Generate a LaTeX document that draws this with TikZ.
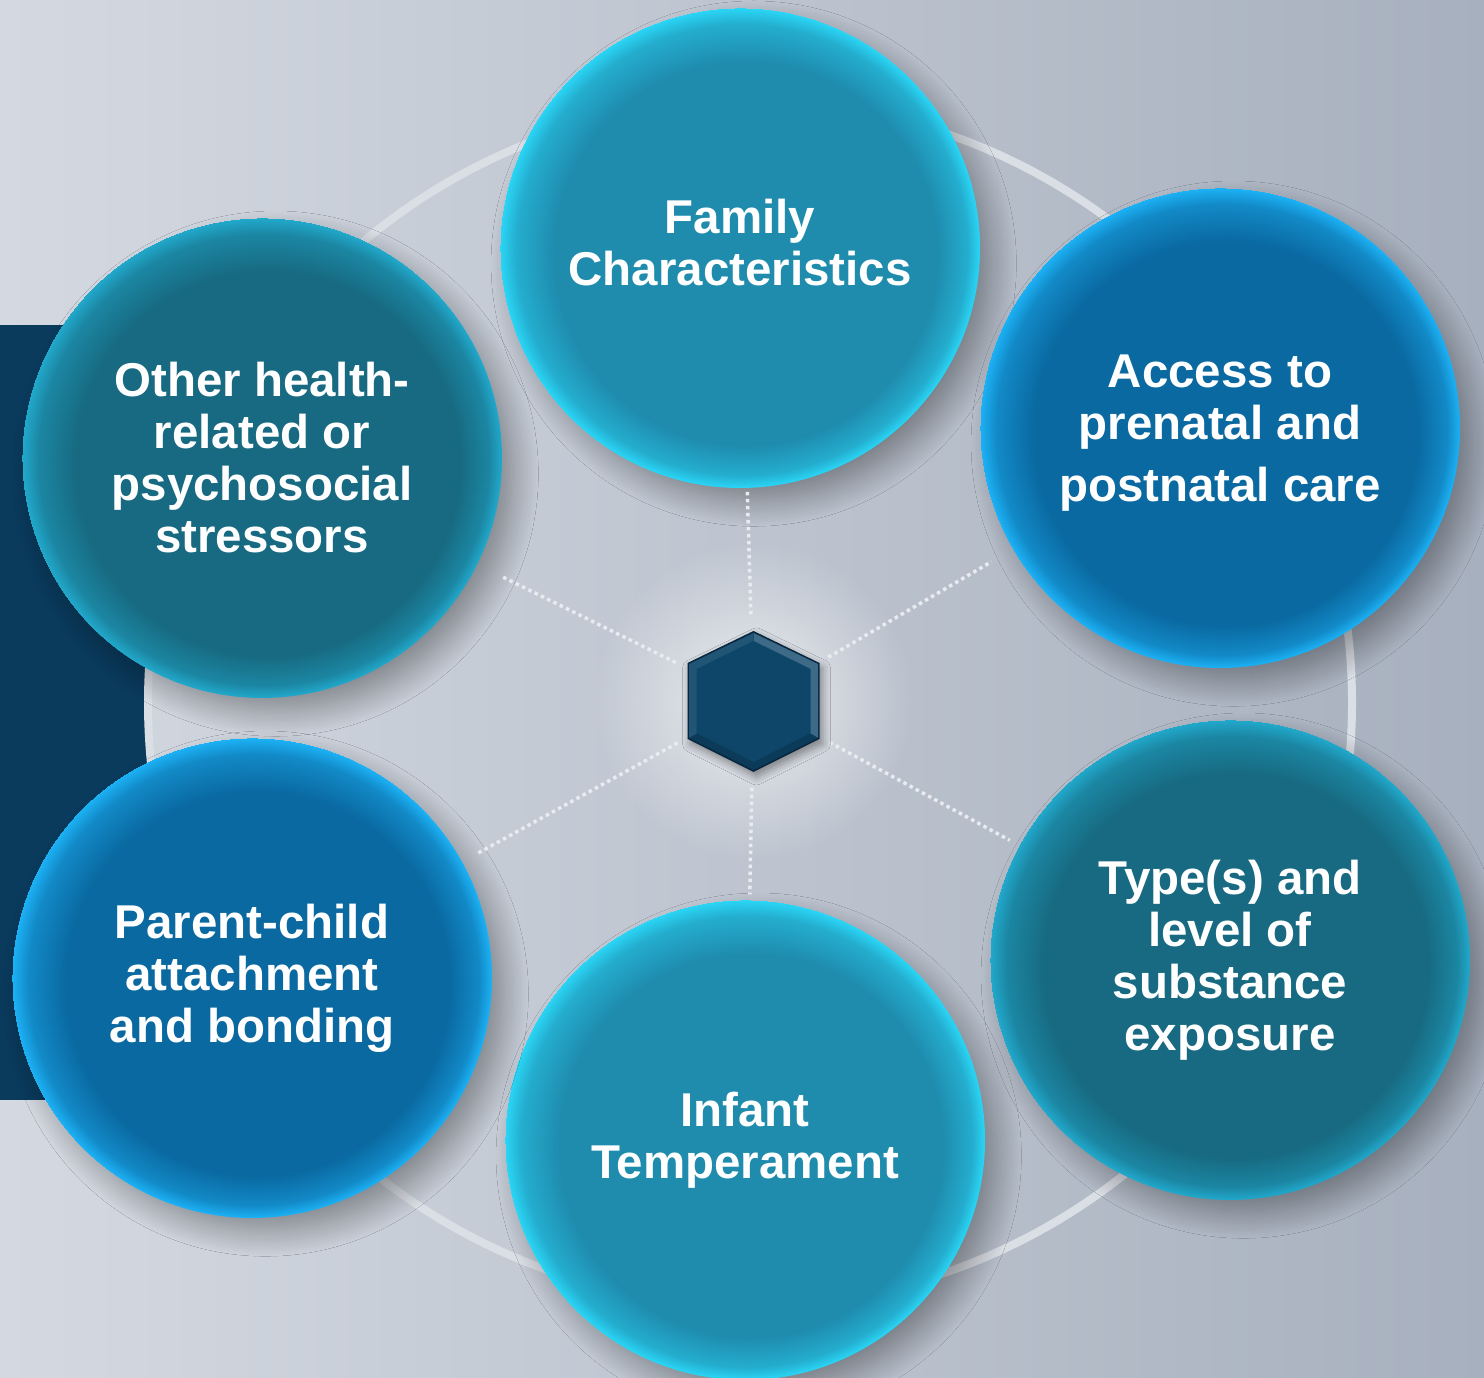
\documentclass[tikz,border=0pt]{standalone}
\usepackage{fontspec}
\setmainfont{Liberation Sans}
\usetikzlibrary{shadows.blur}
\usetikzlibrary{fadings}
\tikzset{>=latex}
\definecolor{bgL}{HTML}{D4D9E1}
\definecolor{bgR}{HTML}{A7B0BE}
\definecolor{navy}{HTML}{0A3A5C}
\definecolor{ringC}{HTML}{DADEE5}
\definecolor{spokeC}{HTML}{E8EBEF}
\definecolor{famC}{HTML}{1F8CAE}
\definecolor{famR}{HTML}{2AD6F6}
\definecolor{accC}{HTML}{0A69A1}
\definecolor{accR}{HTML}{1CB2F6}
\definecolor{typC}{HTML}{176A81}
\definecolor{typR}{HTML}{21A9CC}
\definecolor{hexC}{HTML}{0D4669}
\definecolor{hexD}{HTML}{08263F}
\pgfdeclareradialshading{famshade}{\pgfpoint{3bp}{-3bp}}{color(0bp)=(famC); color(20bp)=(famC); color(23.5bp)=(famC!55!famR); color(25bp)=(famR)}
\pgfdeclareradialshading{accshade}{\pgfpoint{3bp}{-3bp}}{color(0bp)=(accC); color(20bp)=(accC); color(23.5bp)=(accC!55!accR); color(25bp)=(accR)}
\pgfdeclareradialshading{typshade}{\pgfpoint{3bp}{-3bp}}{color(0bp)=(typC); color(20bp)=(typC); color(23.5bp)=(typC!55!typR); color(25bp)=(typR)}
\tikzfading[name=glowfade, inner color=transparent!0, outer color=transparent!100]

\begin{document}
\begin{tikzpicture}[
    bubble/.style={circle, minimum size=4.8cm, inner sep=0pt, text=white, align=center,
        font=\bfseries\fontsize{13.5}{14.8}\selectfont,
        blur shadow={shadow xshift=.14cm, shadow yshift=-.16cm, shadow scale=.98,
            shadow blur radius=.28cm, shadow blur steps=24, shadow opacity=40}},
    spoke/.style={draw=spokeC, line width=.035cm, dash pattern=on .035cm off .035cm}]
    \useasboundingbox (0, 0) rectangle (14.84, 13.78);
    \shade[left color=bgL, right color=bgR] (0, 0) rectangle (14.84, 13.78);
    \fill[navy] (0, 2.78) rectangle (1.47, 10.53);
    \coordinate (O) at (7.50, 6.75);
    \draw[ringC, line width=.08cm] (O) circle (6.02);
    \node[circle, minimum size=1.72cm] (hub) at (7.535, 6.77) {};
    \fill[white, path fading=glowfade, opacity=.7] (hub) circle (1.6);

    \node[bubble, shading=famshade, text depth=.12cm] (fam) at (7.40, 11.30) {Family\\Characteristics};
    \node[bubble, shading=accshade, text depth=-.1cm] (acc) at (12.20, 9.50) {Access to\\prenatal and\\[.1cm]postnatal care};
    \node[bubble, shading=typshade] (typ) at (12.30, 4.18) {Type(s) and\\level of\\substance\\exposure};
    \node[bubble, shading=famshade] (inf) at (7.45, 2.38) {Infant\\Temperament};
    \node[bubble, shading=accshade] (par) at (2.52, 4.00) {Parent-child\\attachment\\and bonding};
    \node[bubble, shading=typshade] (oth) at (2.62, 9.20) {Other health-\\related or\\psychosocial\\stressors};

    \draw[spoke] (hub) -- (fam);
    \draw[spoke, shorten >=.24cm] (hub) -- (acc);
    \draw[spoke, shorten >=.10cm] (hub) -- (typ);
    \draw[spoke, shorten >=.05cm] (hub) -- (inf);
    \draw[spoke, shorten >=.15cm] (hub) -- (par);
    \draw[spoke, shorten >=.25cm] (hub) -- (oth);

    \begin{scope}[shift={(hub)}]
        \fill[hexD, blur shadow={shadow xshift=.03cm, shadow yshift=-.05cm, shadow blur radius=.08cm}]
            (0, .70) -- (.66, .38) -- (.66, -.38) -- (0, -.71) -- (-.66, -.38) -- (-.66, .38) -- cycle;
        \fill[hexC!80!white] (0, .68) -- (.645, .37) -- (.645, -.37) -- (0, 0) -- cycle;
        \fill[hexC!85!black] (.645, -.37) -- (0, -.69) -- (-.645, -.37) -- (0, 0) -- cycle;
        \fill[hexC!92!white] (-.645, -.37) -- (-.645, .37) -- (0, .68) -- (0, 0) -- cycle;
        \fill[hexC] (0, .60) -- (.57, .32) -- (.57, -.32) -- (0, -.61) -- (-.57, -.32) -- (-.57, .32) -- cycle;
    \end{scope}
\end{tikzpicture}
\end{document}
